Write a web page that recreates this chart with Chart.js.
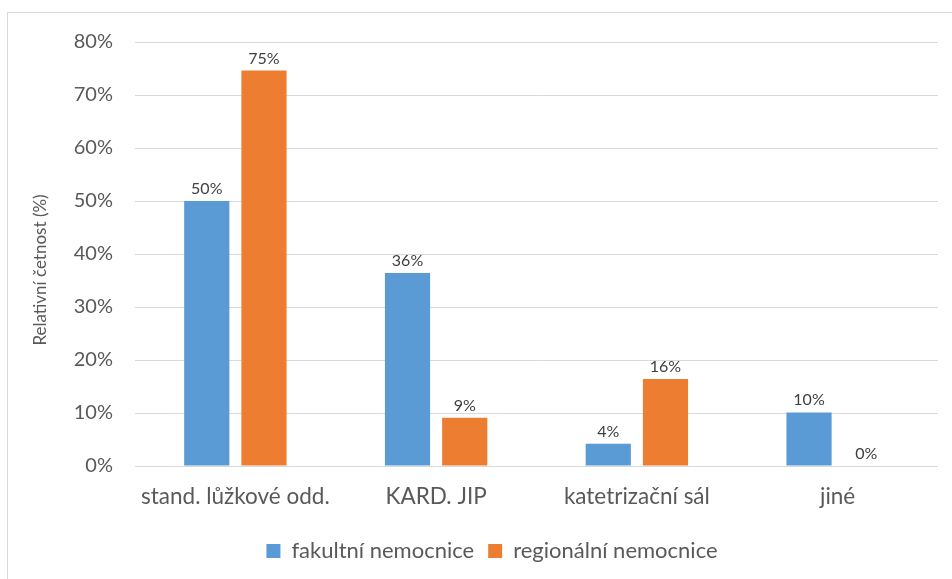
<!DOCTYPE html>
<html>
<head>
<meta charset="utf-8">
<script src="https://cdn.jsdelivr.net/npm/chart.js@4"></script>
<style>
  html, body { margin: 0; padding: 0; background: #fff; overflow: hidden; }
  #frame { position: absolute; left: 7px; top: 12px; width: 1000px; height: 700px; border: 1px solid #d9d9d9; }
  #wrap { position: absolute; left: 0; top: 0; width: 952px; height: 579px; }
</style>
</head>
<body>
<div id="frame"></div>
<div id="wrap"><canvas id="chart"></canvas></div>
<script>
const categories = ['stand. lůžkové odd.', 'KARD. JIP', 'katetrizační sál', 'jiné'];
const seriesNames = ['fakultní nemocnice', 'regionální nemocnice'];
const fakultni = [50.0, 36.4, 4.2, 10.1];
const regionalni = [74.6, 9.1, 16.4, 0.0];
const yTicks = [0, 10, 20, 30, 40, 50, 60, 70, 80];
const yTitle = 'Relativní četnost (%)';

const FONT = 'Lato, "Open Sans", sans-serif';

// writes the rounded value above each bar
const valueLabels = {
    id: 'valueLabels',
    afterDatasetsDraw(chart) {
        const ctx = chart.ctx;
        ctx.save();
        ctx.font = '16px ' + FONT;
        ctx.fillStyle = '#404040';
        ctx.textAlign = 'center';
        ctx.textBaseline = 'alphabetic';
        chart.data.datasets.forEach((ds, i) => {
            chart.getDatasetMeta(i).data.forEach((bar, j) => {
                ctx.fillText(Math.round(ds.data[j]) + '%', bar.x, bar.y - 7);
            });
        });
        ctx.restore();
    }
};

// rotated axis title, sitting a bit below the middle of the plot
const axisTitle = {
    id: 'axisTitle',
    afterDraw(chart) {
        const ctx = chart.ctx;
        const area = chart.chartArea;
        ctx.save();
        ctx.translate(41, (area.top + area.bottom) / 2 + 16);
        ctx.rotate(-Math.PI / 2);
        ctx.font = '17px ' + FONT;
        ctx.fillStyle = '#595959';
        ctx.textAlign = 'center';
        ctx.textBaseline = 'middle';
        ctx.fillText(yTitle, 0, 0);
        ctx.restore();
    }
};

const ctx = document.getElementById('chart').getContext('2d');
new Chart(ctx, {
    type: 'bar',
    data: {
        labels: categories,
        datasets: [
            { label: seriesNames[0], data: fakultni, backgroundColor: '#5b9bd5' },
            { label: seriesNames[1], data: regionalni, backgroundColor: '#ed7d31' }
        ]
    },
    options: {
        responsive: true,
        maintainAspectRatio: false,
        animation: false,
        categoryPercentage: 0.57,
        barPercentage: 0.79,
        layout: { padding: { left: 46, right: 14, top: 42, bottom: 7 } },
        plugins: {
            tooltip: { enabled: false },
            legend: {
                position: 'bottom',
                labels: {
                    boxWidth: 14,
                    boxHeight: 14,
                    padding: 14,
                    color: '#595959',
                    font: { family: FONT, size: 22 }
                }
            }
        },
        scales: {
            x: {
                grid: { display: false },
                border: { display: false },
                ticks: { color: '#595959', font: { family: FONT, size: 22.5 }, padding: 9 },
                afterFit(scale) { scale.height = 60; }
            },
            y: {
                min: 0,
                max: 80,
                afterBuildTicks(scale) { scale.ticks = yTicks.map(v => ({ value: v })); },
                grid: { color: '#d9d9d9', lineWidth: 1, drawTicks: false },
                border: { display: false },
                ticks: {
                    color: '#595959',
                    font: { family: FONT, size: 20 },
                    padding: 22,
                    callback: v => v + '%'
                },
                afterFit(scale) { scale.width = 89; }
            }
        }
    },
    plugins: [valueLabels, axisTitle]
});
</script>
</body>
</html>
